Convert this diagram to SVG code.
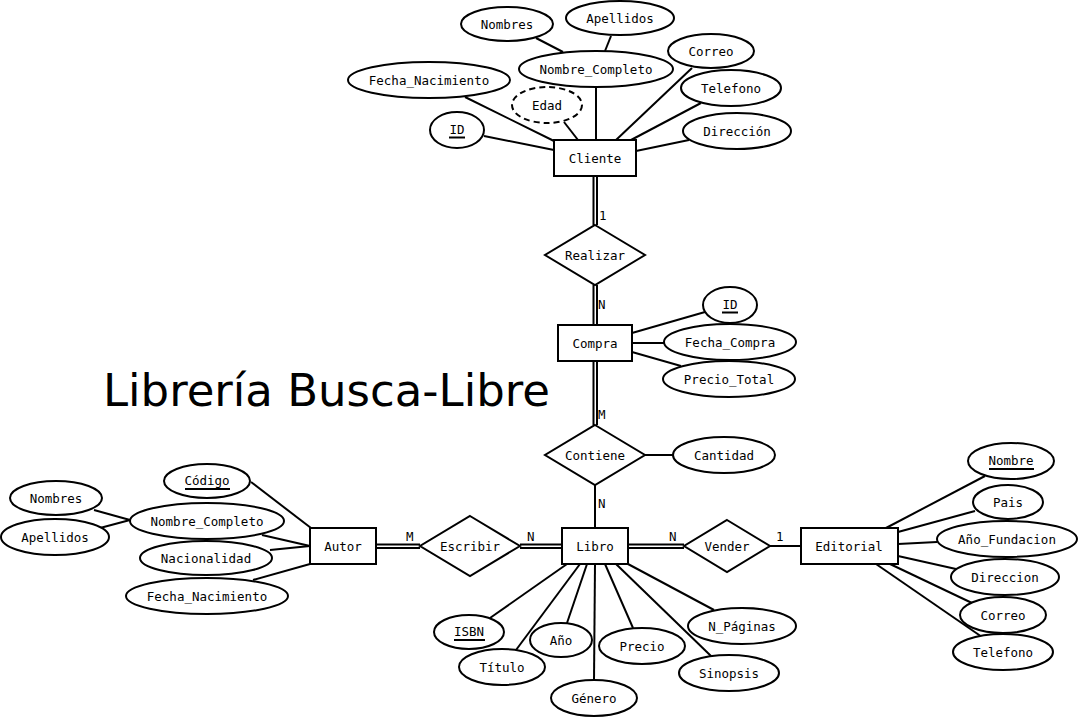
<svg xmlns="http://www.w3.org/2000/svg" width="1081" height="719" viewBox="0 0 1081 719">
<style>
.e{fill:#fff;stroke:#000;stroke-width:2}
.d{fill:#fff;stroke:#000;stroke-width:2;stroke-dasharray:6,4}
.r{fill:#fff;stroke:#000;stroke-width:2}
.l{stroke:#000;stroke-width:2;fill:none}
.ul{stroke:#000;stroke-width:2}
.t{font-family:"DejaVu Sans Mono",monospace;font-size:12.5px;text-anchor:middle;dominant-baseline:central;fill:#000}
.c{font-family:"DejaVu Sans Mono",monospace;font-size:12.5px;fill:#000}
.title{font-family:"DejaVu Sans",sans-serif;font-size:45px;fill:#000}
</style>
<rect width="1081" height="719" fill="#fff"/>
<g id="connectors">
<line class="l" x1="484" y1="136" x2="554" y2="150"/>
<line class="l" x1="465" y1="97" x2="554" y2="141"/>
<line class="l" x1="564" y1="122" x2="578" y2="140"/>
<line class="l" x1="596" y1="87" x2="596" y2="140"/>
<line class="l" x1="692" y1="68" x2="616" y2="140"/>
<line class="l" x1="701" y1="103" x2="631" y2="140"/>
<line class="l" x1="689" y1="140" x2="636" y2="151"/>
<line class="l" x1="536" y1="38" x2="563" y2="52"/>
<line class="l" x1="611" y1="36" x2="605" y2="51"/>
<line class="l" x1="593.5" y1="176" x2="593.5" y2="225"/>
<line class="l" x1="597" y1="176" x2="597" y2="225"/>
<line class="l" x1="593.5" y1="285" x2="593.5" y2="325"/>
<line class="l" x1="597" y1="285" x2="597" y2="325"/>
<line class="l" x1="632" y1="333" x2="705" y2="312"/>
<line class="l" x1="632" y1="343" x2="664" y2="343"/>
<line class="l" x1="632" y1="352" x2="681" y2="366"/>
<line class="l" x1="593.5" y1="361" x2="593.5" y2="425"/>
<line class="l" x1="597" y1="361" x2="597" y2="425"/>
<line class="l" x1="645" y1="455" x2="674" y2="455"/>
<line class="l" x1="595" y1="485" x2="595" y2="528"/>
<line class="l" x1="376" y1="544.5" x2="420" y2="544.5"/>
<line class="l" x1="376" y1="548" x2="420" y2="548"/>
<line class="l" x1="520" y1="544.5" x2="562" y2="544.5"/>
<line class="l" x1="520" y1="548" x2="562" y2="548"/>
<line class="l" x1="628" y1="544.5" x2="684" y2="544.5"/>
<line class="l" x1="628" y1="548" x2="684" y2="548"/>
<line class="l" x1="770" y1="546" x2="801" y2="546"/>
<line class="l" x1="490" y1="618" x2="567" y2="564"/>
<line class="l" x1="516" y1="650" x2="580" y2="564"/>
<line class="l" x1="567" y1="623" x2="587" y2="564"/>
<line class="l" x1="594" y1="680" x2="595" y2="564"/>
<line class="l" x1="633" y1="628" x2="605" y2="564"/>
<line class="l" x1="711" y1="656" x2="616" y2="564"/>
<line class="l" x1="714" y1="610" x2="628" y2="564"/>
<line class="l" x1="251" y1="482" x2="311" y2="528"/>
<line class="l" x1="262" y1="535" x2="310" y2="546"/>
<line class="l" x1="270" y1="550" x2="310" y2="546"/>
<line class="l" x1="253" y1="580" x2="310" y2="564"/>
<line class="l" x1="94" y1="510" x2="130" y2="520"/>
<line class="l" x1="100" y1="528" x2="130" y2="520"/>
<line class="l" x1="886" y1="528" x2="985" y2="476"/>
<line class="l" x1="898" y1="532" x2="975" y2="511"/>
<line class="l" x1="898" y1="544" x2="937" y2="542"/>
<line class="l" x1="898" y1="556" x2="956" y2="569"/>
<line class="l" x1="890" y1="564" x2="972" y2="603"/>
<line class="l" x1="876" y1="564" x2="982" y2="637"/>
<text class="c" x="599" y="220">1</text>
<text class="c" x="598" y="309">N</text>
<text class="c" x="598" y="419">M</text>
<text class="c" x="598" y="508">N</text>
<text class="c" x="406" y="541">M</text>
<text class="c" x="527" y="541">N</text>
<text class="c" x="669" y="541">N</text>
<text class="c" x="776" y="541">1</text>
</g>
<text class="title" x="103" y="406">Librería Busca-Libre</text>
<g id="cliente"><rect class="r" x="554" y="140" width="82" height="36"/><text class="t" x="595" y="158">Cliente</text></g>
<g id="cli-nombres"><ellipse class="e" cx="507" cy="24" rx="46" ry="17"/><text class="t" x="507" y="24">Nombres</text></g>
<g id="cli-apellidos"><ellipse class="e" cx="620" cy="18" rx="54" ry="17"/><text class="t" x="620" y="18">Apellidos</text></g>
<g id="cli-nombre-completo"><ellipse class="e" cx="596" cy="69" rx="77" ry="18"/><text class="t" x="596" y="69">Nombre_Completo</text></g>
<g id="cli-correo"><ellipse class="e" cx="711" cy="51" rx="43" ry="17"/><text class="t" x="711" y="51">Correo</text></g>
<g id="cli-fecha"><ellipse class="e" cx="429" cy="80" rx="81" ry="18"/><text class="t" x="429" y="80">Fecha_Nacimiento</text></g>
<g id="cli-telefono"><ellipse class="e" cx="731" cy="88" rx="50" ry="18"/><text class="t" x="731" y="88">Telefono</text></g>
<g id="cli-edad"><ellipse class="d" cx="547" cy="105" rx="35" ry="18"/><text class="t" x="547" y="105">Edad</text></g>
<g id="cli-id"><ellipse class="e" cx="457" cy="130" rx="27" ry="18"/><text class="t" x="457" y="129">ID</text><line class="ul" x1="449" y1="137.5" x2="465" y2="137.5"/></g>
<g id="cli-direccion"><ellipse class="e" cx="737" cy="131" rx="54" ry="18"/><text class="t" x="737" y="131">Dirección</text></g>
<g id="realizar"><polygon class="r" points="595,225 645,255 595,285 545,255"/><text class="t" x="595" y="255">Realizar</text></g>
<g id="compra"><rect class="r" x="558" y="325" width="74" height="36"/><text class="t" x="595" y="343">Compra</text></g>
<g id="com-id"><ellipse class="e" cx="730" cy="305" rx="27" ry="18"/><text class="t" x="730" y="304">ID</text><line class="ul" x1="722" y1="312.5" x2="738" y2="312.5"/></g>
<g id="com-fecha"><ellipse class="e" cx="730" cy="342" rx="66" ry="18"/><text class="t" x="730" y="342">Fecha_Compra</text></g>
<g id="com-precio"><ellipse class="e" cx="729" cy="379" rx="66" ry="18"/><text class="t" x="729" y="379">Precio_Total</text></g>
<g id="contiene"><polygon class="r" points="595,425 645,455 595,485 545,455"/><text class="t" x="595" y="455">Contiene</text></g>
<g id="cantidad"><ellipse class="e" cx="724" cy="455" rx="51" ry="18"/><text class="t" x="724" y="455">Cantidad</text></g>
<g id="libro"><rect class="r" x="562" y="528" width="66" height="36"/><text class="t" x="595" y="546">Libro</text></g>
<g id="escribir"><polygon class="r" points="470,516 520,546 470,576 420,546"/><text class="t" x="470" y="546">Escribir</text></g>
<g id="autor"><rect class="r" x="310" y="528" width="66" height="36"/><text class="t" x="343" y="546">Autor</text></g>
<g id="vender"><polygon class="r" points="727,520 770,546 727,572 684,546"/><text class="t" x="727" y="546">Vender</text></g>
<g id="editorial"><rect class="r" x="801" y="528" width="97" height="36"/><text class="t" x="849" y="546">Editorial</text></g>
<g id="lib-isbn"><ellipse class="e" cx="469" cy="632" rx="35" ry="17"/><text class="t" x="469" y="631">ISBN</text><line class="ul" x1="454" y1="640" x2="485" y2="640"/></g>
<g id="lib-titulo"><ellipse class="e" cx="502" cy="667" rx="43" ry="18"/><text class="t" x="502" y="667">Título</text></g>
<g id="lib-anio"><ellipse class="e" cx="561" cy="640" rx="31" ry="17"/><text class="t" x="561" y="640">Año</text></g>
<g id="lib-genero"><ellipse class="e" cx="594" cy="698" rx="43" ry="18"/><text class="t" x="594" y="698">Género</text></g>
<g id="lib-precio"><ellipse class="e" cx="642" cy="646" rx="43" ry="18"/><text class="t" x="642" y="646">Precio</text></g>
<g id="lib-sinopsis"><ellipse class="e" cx="729" cy="673" rx="50" ry="18"/><text class="t" x="729" y="673">Sinopsis</text></g>
<g id="lib-npaginas"><ellipse class="e" cx="742" cy="626" rx="54" ry="18"/><text class="t" x="742" y="626">N_Páginas</text></g>
<g id="aut-codigo"><ellipse class="e" cx="207" cy="481" rx="43" ry="17"/><text class="t" x="207" y="480">Código</text><line class="ul" x1="185" y1="489" x2="230" y2="489"/></g>
<g id="aut-nombre-completo"><ellipse class="e" cx="207" cy="521" rx="77" ry="18"/><text class="t" x="207" y="521">Nombre_Completo</text></g>
<g id="aut-nacionalidad"><ellipse class="e" cx="206" cy="558" rx="66" ry="17"/><text class="t" x="206" y="558">Nacionalidad</text></g>
<g id="aut-fecha"><ellipse class="e" cx="207" cy="596" rx="81" ry="18"/><text class="t" x="207" y="596">Fecha_Nacimiento</text></g>
<g id="aut-nombres"><ellipse class="e" cx="56" cy="498" rx="46" ry="17"/><text class="t" x="56" y="498">Nombres</text></g>
<g id="aut-apellidos"><ellipse class="e" cx="55" cy="537" rx="54" ry="18"/><text class="t" x="55" y="537">Apellidos</text></g>
<g id="edi-nombre"><ellipse class="e" cx="1011" cy="461" rx="43" ry="18"/><text class="t" x="1011" y="460">Nombre</text><line class="ul" x1="989" y1="469" x2="1034" y2="469"/></g>
<g id="edi-pais"><ellipse class="e" cx="1008" cy="502" rx="35" ry="17"/><text class="t" x="1008" y="502">Pais</text></g>
<g id="edi-anio"><ellipse class="e" cx="1007" cy="539" rx="70" ry="18"/><text class="t" x="1007" y="539">Año_Fundacion</text></g>
<g id="edi-direccion"><ellipse class="e" cx="1005" cy="577" rx="54" ry="18"/><text class="t" x="1005" y="577">Direccion</text></g>
<g id="edi-correo"><ellipse class="e" cx="1003" cy="615" rx="43" ry="18"/><text class="t" x="1003" y="615">Correo</text></g>
<g id="edi-telefono"><ellipse class="e" cx="1003" cy="652" rx="50" ry="18"/><text class="t" x="1003" y="652">Telefono</text></g>
</svg>
